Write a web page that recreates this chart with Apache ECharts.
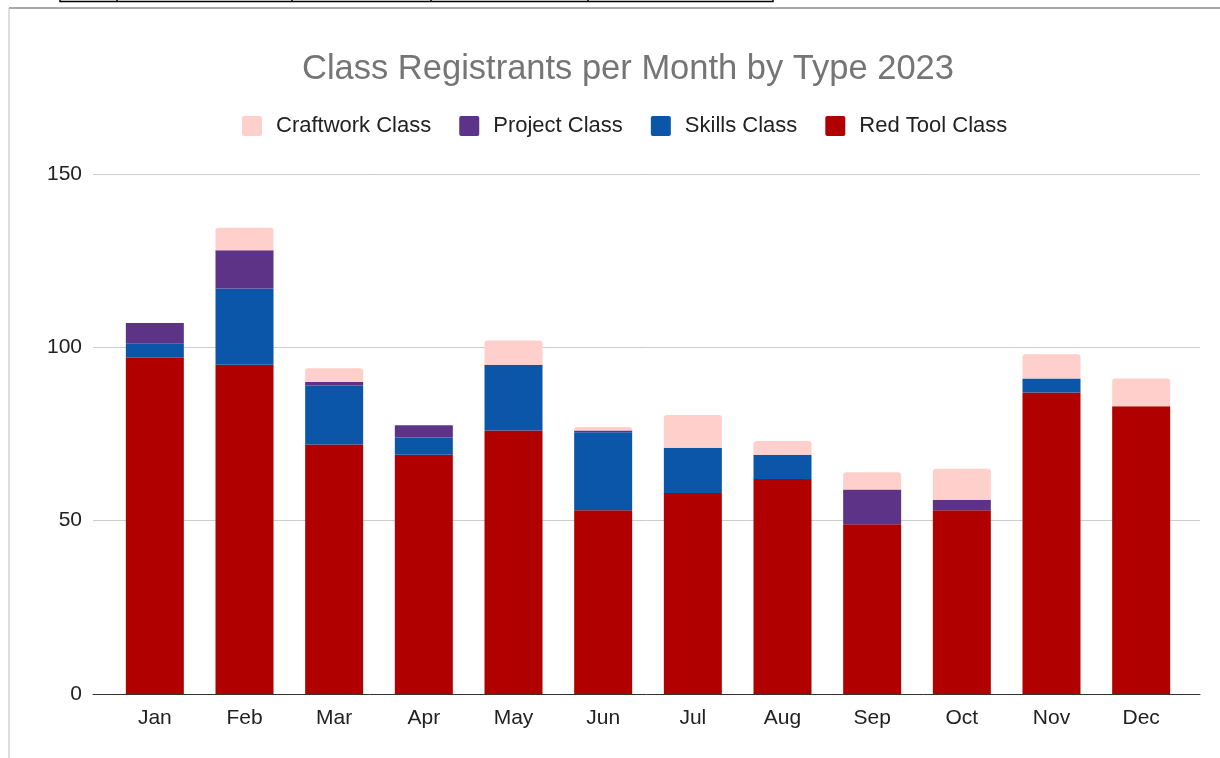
<!DOCTYPE html>
<html>
<head>
<meta charset="utf-8">
<script src="https://cdn.jsdelivr.net/npm/echarts@6/dist/echarts.min.js"></script>
<style>
  html, body { margin: 0; padding: 0; background: #fff; }
  #main { width: 1220px; height: 758px; }
</style>
</head>
<body>
<div id="main"></div>
<script>
// data
const months = ['Jan', 'Feb', 'Mar', 'Apr', 'May', 'Jun', 'Jul', 'Aug', 'Sep', 'Oct', 'Nov', 'Dec'];
const redTool = [97, 95, 72, 69, 76, 53, 58, 62, 49, 53, 87, 83];
const skills = [4, 22, 17, 5, 19, 22.5, 13, 7, 0, 0, 4, 0];
const project = [6, 11, 1, 3.5, 0, 0.5, 0, 0, 10, 3, 0, 0];
const craftwork = [0, 6.5, 4, 0, 7, 1, 9.5, 4, 5, 9, 7, 8];
const yTicks = [0, 50, 100, 150];

const colors = {
  craft: '#ffd0cb',
  project: '#5c3387',
  skills: '#0b56a8',
  red: '#b00000'
};

let chartDom = document.getElementById('main');
let myChart = echarts.init(chartDom);

const barSeries = (name, data, color, top) => ({
  name: name,
  type: 'bar',
  stack: 'total',
  xAxisIndex: 1,
  yAxisIndex: 1,
  barWidth: 58,
  data: data,
  itemStyle: {
    color: color,
    borderRadius: top ? [3, 3, 0, 0] : 0
  },
  emphasis: { disabled: true }
});

let option = {
  animation: false,
  textStyle: { fontFamily: 'Liberation Sans, Arial, sans-serif' },
  title: {
    text: 'Class Registrants per Month by Type 2023',
    left: 623,
    top: 47,
    textAlign: 'center',
    textStyle: {
      fontSize: 34.5,
      fontWeight: 'normal',
      color: '#757575',
      fontFamily: 'Liberation Sans, Arial, sans-serif'
    }
  },
  legend: {
    left: 237,
    top: 110,
    itemWidth: 20,
    itemHeight: 20,
    itemGap: 28,
    icon: 'path://M2,0 H18 Q20,0 20,2 V18 Q20,20 18,20 H2 Q0,20 0,18 V2 Q0,0 2,0 Z',
    data: ['Craftwork Class', 'Project Class', 'Skills Class', 'Red Tool Class'],
    textStyle: {
      fontSize: 22,
      color: '#222',
      padding: [0, 0, 0, 9]
    }
  },
  grid: [
    { left: 93, right: 20, top: 174, bottom: 64 },
    { left: 110, right: 34, top: 174, bottom: 64 }
  ],
  xAxis: [
    {
      gridIndex: 0,
      type: 'value',
      min: 0,
      max: 1,
      axisLine: { show: true, lineStyle: { color: '#333', width: 1 } },
      axisTick: { show: false },
      axisLabel: { show: false },
      splitLine: { show: false }
    },
    {
      gridIndex: 1,
      type: 'category',
      data: months,
      axisLine: { show: false },
      axisTick: { show: false },
      axisLabel: { fontSize: 21, color: '#222', margin: 14 }
    }
  ],
  yAxis: [
    {
      gridIndex: 0,
      type: 'value',
      min: yTicks[0],
      max: yTicks[yTicks.length - 1],
      interval: 50,
      axisLine: { show: false },
      axisTick: { show: false },
      axisLabel: { fontSize: 21, color: '#222', margin: 11 },
      splitLine: { lineStyle: { color: '#cccccc', width: 1 } }
    },
    {
      gridIndex: 1,
      type: 'value',
      min: yTicks[0],
      max: yTicks[yTicks.length - 1],
      interval: 50,
      show: false,
      splitLine: { show: false }
    }
  ],
  graphic: [
    // chart frame edges
    { type: 'line', shape: { x1: 9, y1: 8, x2: 1220, y2: 8 }, style: { stroke: '#aaaaaa', lineWidth: 2 } },
    { type: 'line', shape: { x1: 9, y1: 8, x2: 9, y2: 758 }, style: { stroke: '#bbbbbb', lineWidth: 1 } },
    // leftover cell borders above the chart
    { type: 'rect', shape: { x: 60, y: -10, width: 713, height: 11.5 }, style: { fill: 'none', stroke: '#000', lineWidth: 1.5 } },
    { type: 'line', shape: { x1: 117, y1: 0, x2: 117, y2: 2 }, style: { stroke: '#000', lineWidth: 1.5 } },
    { type: 'line', shape: { x1: 292, y1: 0, x2: 292, y2: 2 }, style: { stroke: '#000', lineWidth: 1.5 } },
    { type: 'line', shape: { x1: 431, y1: 0, x2: 431, y2: 2 }, style: { stroke: '#000', lineWidth: 1.5 } },
    { type: 'line', shape: { x1: 588, y1: 0, x2: 588, y2: 2 }, style: { stroke: '#000', lineWidth: 1.5 } }
  ],
  series: [
    barSeries('Red Tool Class', redTool, colors.red, false),
    barSeries('Skills Class', skills, colors.skills, false),
    barSeries('Project Class', project, colors.project, false),
    barSeries('Craftwork Class', craftwork, colors.craft, true)
  ]
};

option && myChart.setOption(option);
</script>
</body>
</html>
